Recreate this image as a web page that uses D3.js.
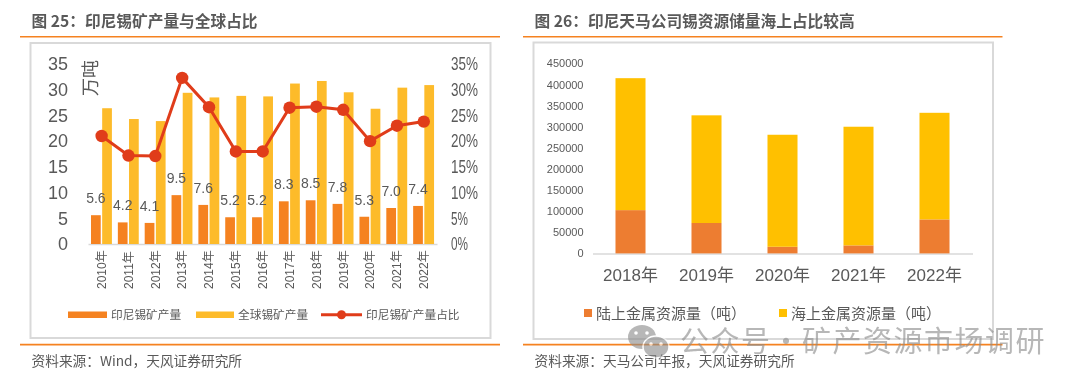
<!DOCTYPE html>
<html>
<head>
<meta charset="utf-8">
<script src="https://d3js.org/d3.v7.min.js"></script>
<style>
    html, body { margin: 0; padding: 0; background: #fff; }
    svg { display: block; filter: blur(0.35px); }
    text { font-family: "Liberation Sans", "Noto Sans CJK SC", sans-serif; fill: #595959; }
    .cjk { font-family: "Noto Sans CJK SC", sans-serif; }
</style>
</head>
<body>
<svg id="chart" width="1080" height="386"></svg>
<script>
// left chart data
const mineYears = ["2010年", "2011年", "2012年", "2013年", "2014年", "2015年", "2016年", "2017年", "2018年", "2019年", "2020年", "2021年", "2022年"];
const indonesiaOutput = [5.6, 4.2, 4.1, 9.5, 7.6, 5.2, 5.2, 8.3, 8.5, 7.8, 5.3, 7.0, 7.4];
const globalOutput = [26.4, 24.3, 23.9, 29.4, 28.5, 28.8, 28.7, 31.2, 31.7, 29.5, 26.3, 30.4, 30.9];
const indonesiaShare = [21.0, 17.2, 17.1, 32.3, 26.6, 18.0, 18.0, 26.5, 26.7, 26.1, 20.0, 23.0, 23.8];
const mineTicks = [0, 5, 10, 15, 20, 25, 30, 35];

// right chart data
const resourceYears = ["2018年", "2019年", "2020年", "2021年", "2022年"];
const onshore = [102500, 72000, 15700, 19000, 80500];
const offshore = [312500, 255000, 265300, 281000, 252500];
const resourceTicks = [0, 50000, 100000, 150000, 200000, 250000, 300000, 350000, 400000, 450000];

const grey = "#d9d9d9";
const ruleColor = "#f58220";
const svg = d3.select("#chart");

function panel(x0, x1, frame, title, source) {
    svg.append("rect")
        .attr("x", frame[0]).attr("y", frame[1])
        .attr("width", frame[2] - frame[0]).attr("height", frame[3] - frame[1])
        .attr("fill", "none").attr("stroke", grey).attr("stroke-width", 2);
    [36.7, 344.6].forEach(y => {
        svg.append("line")
            .attr("x1", x0).attr("x2", x1).attr("y1", y).attr("y2", y)
            .attr("stroke", ruleColor).attr("stroke-width", 1.6);
    });
    svg.append("text").attr("class", "cjk")
        .attr("x", frame[0] + 1).attr("y", 27)
        .attr("font-size", 15.7).attr("font-weight", 700)
        .text(title);
    svg.append("text").attr("class", "cjk")
        .attr("x", frame[0] + 1).attr("y", 365.5)
        .attr("font-size", 13.7)
        .text(source);
}

panel(20, 500, [30.5, 43, 490.5, 338], "图 25：印尼锡矿产量与全球占比", "资料来源：Wind，天风证券研究所");
panel(523, 1002.5, [533.5, 42.5, 993, 339], "图 26：印尼天马公司锡资源储量海上占比较高", "资料来源：天马公司年报，天风证券研究所");

// ---- left chart ----
const x = d3.scaleBand().domain(mineYears).range([88, 437]);
const xSub = d3.scaleBand().domain(["id", "world"]).range([3, 23.9]).paddingInner(0.13);
const y = d3.scaleLinear().domain([0, 35]).range([244, 64]);
const yShare = d3.scaleLinear().domain([0, 35]).range([244, 64]);

const mineAxis = svg.append("g")
    .attr("transform", "translate(0,244)")
    .call(d3.axisBottom(x).tickSize(0).tickSizeOuter(0));
mineAxis.select(".domain").attr("stroke", grey).attr("stroke-width", 1.5);
mineAxis.selectAll("text")
    .attr("text-anchor", "start")
    .attr("font-size", 12)
    .attr("dy", null).attr("y", null)
    .attr("transform", "translate(4.5,45) rotate(-90)");

const leftAxis = svg.append("g")
    .attr("transform", "translate(68,0)")
    .call(d3.axisLeft(y).tickValues(mineTicks).tickSize(0).tickPadding(0));
leftAxis.select(".domain").remove();
leftAxis.selectAll("text").attr("font-size", 18);

const rightAxis = svg.append("g")
    .attr("transform", "translate(451,0)")
    .call(d3.axisRight(yShare).tickValues(mineTicks).tickSize(0).tickPadding(0).tickFormat(d => d + "%"));
rightAxis.select(".domain").remove();
rightAxis.selectAll("text")
    .attr("font-size", 18)
    .attr("lengthAdjust", "spacingAndGlyphs")
    .attr("textLength", d => String(d).length * 10 + 7);

svg.append("text").attr("class", "cjk")
    .attr("transform", "translate(96.5,96) rotate(-90)")
    .attr("font-size", 18)
    .text("万吨");

svg.append("g").selectAll("rect")
    .data(globalOutput)
    .join("rect")
    .attr("x", (d, i) => x(mineYears[i]) + xSub("world"))
    .attr("y", d => y(d))
    .attr("width", xSub.bandwidth())
    .attr("height", d => y(0) - y(d))
    .attr("fill", "#fdbb2a");

svg.append("g").selectAll("rect")
    .data(indonesiaOutput)
    .join("rect")
    .attr("x", (d, i) => x(mineYears[i]) + xSub("id"))
    .attr("y", d => y(d))
    .attr("width", xSub.bandwidth())
    .attr("height", d => y(0) - y(d))
    .attr("fill", "#f58220");

const shareLine = d3.line()
    .x((d, i) => x(mineYears[i]) + x.bandwidth() / 2 + 0.2)
    .y(d => yShare(d));

svg.append("path")
    .attr("d", shareLine(indonesiaShare))
    .attr("fill", "none")
    .attr("stroke", "#e03c1a")
    .attr("stroke-width", 3);

svg.append("g").selectAll("circle")
    .data(indonesiaShare)
    .join("circle")
    .attr("cx", (d, i) => x(mineYears[i]) + x.bandwidth() / 2 + 0.2)
    .attr("cy", d => yShare(d))
    .attr("r", 6.2)
    .attr("fill", "#e03c1a");

svg.append("g").selectAll("text")
    .data(indonesiaOutput)
    .join("text")
    .attr("x", (d, i) => x(mineYears[i]) + xSub("id") + xSub.bandwidth() / 2)
    .attr("y", d => y(d) - 12)
    .attr("text-anchor", "middle")
    .attr("font-size", 14)
    .text(d => d.toFixed(1));

// left legend
const leftLegend = svg.append("g").attr("font-size", 12);
leftLegend.append("rect").attr("x", 68).attr("y", 311.5).attr("width", 39).attr("height", 6.5).attr("fill", "#f58220");
leftLegend.append("rect").attr("x", 196).attr("y", 311.5).attr("width", 38).attr("height", 6.5).attr("fill", "#fdbb2a");
leftLegend.append("line").attr("x1", 321).attr("x2", 362).attr("y1", 314.7).attr("y2", 314.7)
    .attr("stroke", "#e03c1a").attr("stroke-width", 3);
leftLegend.append("circle").attr("cx", 341.5).attr("cy", 314.7).attr("r", 4.5).attr("fill", "#e03c1a");
[[111, "印尼锡矿产量"], [238, "全球锡矿产量"], [366, "印尼锡矿产量占比"]].forEach(d => {
    leftLegend.append("text").attr("class", "cjk").attr("x", d[0]).attr("y", 319).attr("font-size", 11.7).text(d[1]);
});

// ---- right chart ----
const xRes = d3.scaleBand().domain(resourceYears).range([592.5, 972.5]).paddingInner(0.605).paddingOuter(0.3025);
const yRes = d3.scaleLinear().domain([0, 450000]).range([253.4, 63.4]);

const resAxis = svg.append("g")
    .attr("transform", "translate(0,253.4)")
    .call(d3.axisBottom(xRes).tickSize(0).tickSizeOuter(0).tickPadding(0));
resAxis.select(".domain").attr("stroke", grey).attr("stroke-width", 1.5);
resAxis.selectAll("text")
    .attr("font-size", 17)
    .attr("dy", null)
    .attr("y", 28);

const resLeft = svg.append("g")
    .attr("transform", "translate(583.5,0)")
    .call(d3.axisLeft(yRes).tickValues(resourceTicks).tickSize(0).tickPadding(0).tickFormat(d3.format("d")));
resLeft.select(".domain").remove();
resLeft.selectAll("text").attr("font-size", 11);

const stacked = d3.stack().keys([0, 1]).value((d, k) => d[k])(onshore.map((d, i) => [d, offshore[i]]));
const resColors = ["#ed7d31", "#ffc000"];

svg.append("g").selectAll("g")
    .data(stacked)
    .join("g")
    .attr("fill", (d, i) => resColors[i])
    .selectAll("rect")
    .data(d => d)
    .join("rect")
    .attr("x", (d, i) => xRes(resourceYears[i]))
    .attr("y", d => yRes(d[1]))
    .attr("width", xRes.bandwidth())
    .attr("height", d => yRes(d[0]) - yRes(d[1]));

// right legend
const rightLegend = svg.append("g");
[[584, 596, "陆上金属资源量（吨）", resColors[0]], [779, 791, "海上金属资源量（吨）", resColors[1]]].forEach(d => {
    rightLegend.append("rect").attr("x", d[0]).attr("y", 309).attr("width", 8).attr("height", 8).attr("fill", d[3]);
    rightLegend.append("text").attr("class", "cjk").attr("x", d[1]).attr("y", 318.5).attr("font-size", 15).text(d[2]);
});

// watermark
const mark = svg.append("g").attr("opacity", 0.62);
mark.append("ellipse").attr("cx", 642).attr("cy", 337).attr("rx", 14).attr("ry", 12).attr("fill", "#8c8c8c");
mark.append("ellipse").attr("cx", 656).attr("cy", 347).attr("rx", 13).attr("ry", 11).attr("fill", "#8c8c8c").attr("stroke", "#fff").attr("stroke-width", 1.5);
[[636, 333], [647, 333], [651, 344], [661, 344]].forEach(d => {
    mark.append("circle").attr("cx", d[0]).attr("cy", d[1]).attr("r", 1.8).attr("fill", "#fff");
});
mark.append("text").attr("class", "cjk")
    .attr("x", 680).attr("y", 352)
    .attr("font-size", 29)
    .attr("letter-spacing", 1.5)
    .style("fill", "#8c8c8c")
    .text("公众号·矿产资源市场调研");
</script>
</body>
</html>
